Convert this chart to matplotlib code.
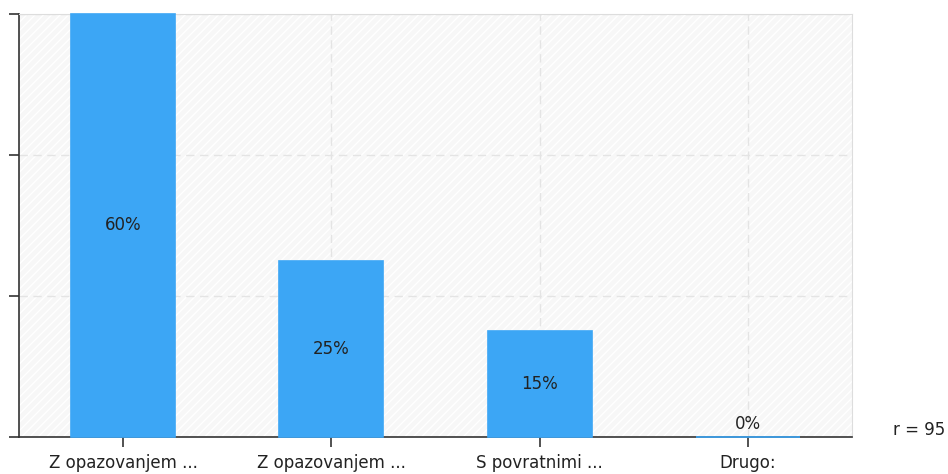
import matplotlib.pyplot as plt
from matplotlib.patches import Rectangle

categories = ['Z opazovanjem ...', 'Z opazovanjem ...', 'S povratnimi ...', 'Drugo:']
values = [60, 25, 15, 0]
labels = ['60%', '25%', '15%', '0%']
respondents = 95

plt.rcParams['font.family'] = ['DejaVu Sans']
plt.rcParams['hatch.linewidth'] = 1.0

fig = plt.figure(figsize=(9.48, 4.74), dpi=100)
ax = fig.add_axes([19 / 948, 1 - 437 / 474, 833 / 948, 423 / 474])

# hatched light background
ax.set_facecolor('#f7f7f7')
ax.add_patch(Rectangle((0, 0), 1, 1, transform=ax.transAxes, facecolor='none',
                       edgecolor='#ffffff', hatch='////', linewidth=0, zorder=0))

x = range(len(categories))
ax.bar(x, values, width=0.5, color='#3ca6f5', edgecolor='#3ca6f5',
       linewidth=1.2, zorder=3, clip_on=False)

for xi, v, lab in zip(x, values, labels):
    ypos = v / 2 if v > 0 else 1.8
    ax.text(xi, ypos, lab, ha='center', va='center', fontsize=12,
            color='#222222', zorder=4)

ax.set_xlim(-0.5, 3.5)
ax.set_ylim(0, 60)
ax.set_yticks([0, 20, 40, 60])
ax.set_yticklabels([])
ax.set_xticks(list(x))
ax.set_xticklabels(categories, fontsize=12, color='#222222')

ax.grid(True, linestyle=(0, (6, 4)), color='#e4e4e4', linewidth=1, zorder=1)
ax.set_axisbelow(True)

ax.tick_params(axis='both', direction='out', length=7, width=1.2, color='#333333', pad=5)
ax.spines['left'].set_color('#333333')
ax.spines['bottom'].set_color('#333333')
ax.spines['left'].set_linewidth(1.2)
ax.spines['bottom'].set_linewidth(1.2)
ax.spines['top'].set_color('#dddddd')
ax.spines['right'].set_color('#dddddd')

fig.text(893 / 948, 1 - 430 / 474, 'r = ' + str(respondents), fontsize=12,
         color='#222222', va='center')

plt.savefig('out.png', dpi=100)
